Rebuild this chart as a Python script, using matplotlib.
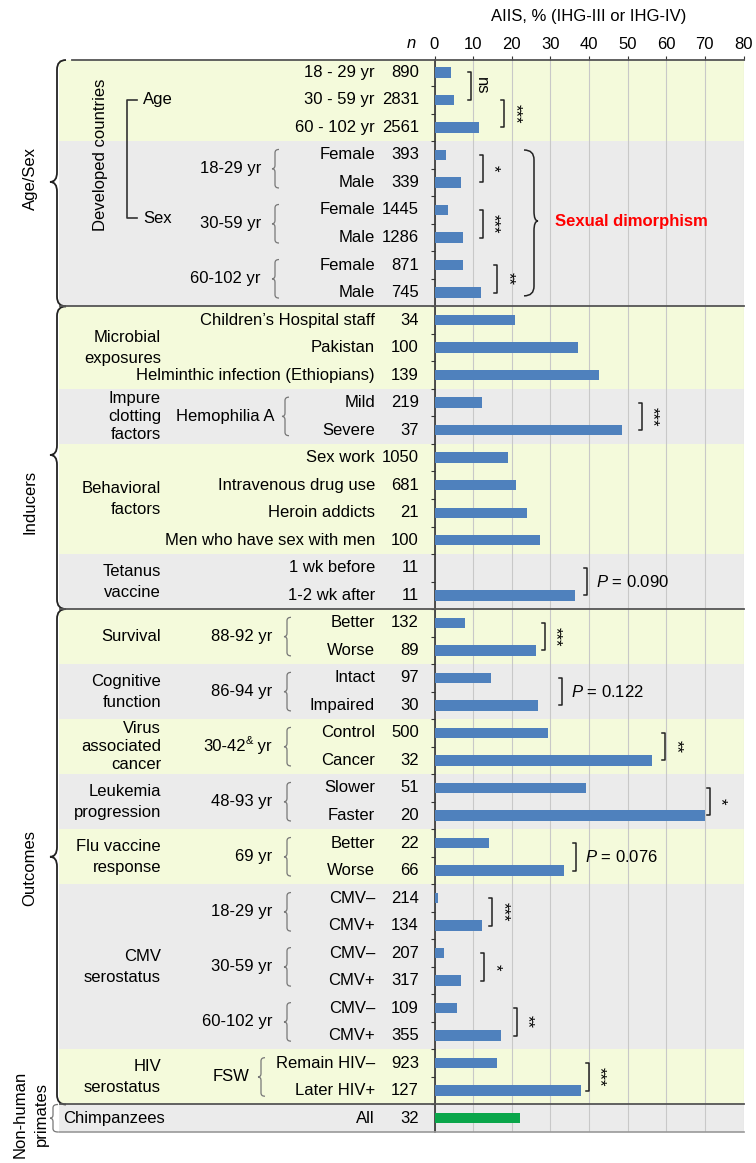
import numpy as np
import matplotlib
matplotlib.use("Agg")
import matplotlib.pyplot as plt
from matplotlib.path import Path
from matplotlib.patches import PathPatch, Rectangle

FONT = "Liberation Sans"
plt.rcParams["font.family"] = [FONT, "DejaVu Sans"]
plt.rcParams["font.size"] = 12
plt.rcParams["mathtext.fontset"] = "custom"
plt.rcParams["mathtext.rm"] = FONT
plt.rcParams["mathtext.it"] = FONT + ":italic"

# ---- Data (one entry per row, top to bottom)
row_labels = [
    "18 - 29 yr", "30 - 59 yr", "60 - 102 yr",
    "Female", "Male", "Female", "Male", "Female", "Male",
    "Children\u2019s Hospital staff", "Pakistan", "Helminthic infection (Ethiopians)",
    "Mild", "Severe",
    "Sex work", "Intravenous drug use", "Heroin addicts", "Men who have sex with men",
    "1 wk before", "1-2 wk after",
    "Better", "Worse", "Intact", "Impaired", "Control", "Cancer",
    "Slower", "Faster", "Better", "Worse",
    "CMV\u2013", "CMV+", "CMV\u2013", "CMV+", "CMV\u2013", "CMV+",
    "Remain HIV\u2013", "Later HIV+", "All",
]
n_values = [890, 2831, 2561, 393, 339, 1445, 1286, 871, 745,
            34, 100, 139, 219, 37, 1050, 681, 21, 100, 11, 11,
            132, 89, 97, 30, 500, 32, 51, 20, 22, 66,
            214, 134, 207, 317, 109, 355, 923, 127, 32]
aiis_pct = [4.4, 5.1, 11.5, 2.9, 6.9, 3.4, 7.25, 7.25, 12.0,
            20.75, 37.25, 42.5, 12.25, 48.6, 19.1, 21.1, 24.0, 27.25, 0.0, 36.5,
            7.9, 26.25, 14.6, 26.9, 29.4, 56.4, 39.25, 70.1, 14.0, 33.6,
            1.0, 12.25, 2.5, 6.9, 5.75, 17.1, 16.1, 37.9, 22.25]
species = ["human"] * 38 + ["chimp"]

# background bands: (first row, last row, shade)
bands = [(0, 2, "y"), (3, 8, "g"), (9, 11, "y"), (12, 13, "g"), (14, 17, "y"),
         (18, 19, "g"), (20, 21, "y"), (22, 23, "g"), (24, 25, "y"), (26, 27, "g"),
         (28, 29, "y"), (30, 35, "g"), (36, 37, "y"), (38, 38, "g")]

group_labels = ["Microbial\nexposures", "Impure\nclotting\nfactors", "Behavioral\nfactors",
                "Tetanus\nvaccine", "Survival", "Cognitive\nfunction",
                "Virus\nassociated\ncancer", "Leukemia\nprogression", "Flu vaccine\nresponse",
                "CMV\nserostatus", "HIV\nserostatus"]
group_rows = [(9, 11), (12, 13), (14, 17), (18, 19), (20, 21), (22, 23),
              (24, 25), (26, 27), (28, 29), (30, 35), (36, 37)]

# "^&" marks a superscript ampersand
sub_labels = ["18-29 yr", "30-59 yr", "60-102 yr", "Hemophilia A",
              "88-92 yr", "86-94 yr", "30-42^& yr", "48-93 yr", "69 yr",
              "18-29 yr", "30-59 yr", "60-102 yr", "FSW"]
sub_rows = [(3, 4), (5, 6), (7, 8), (12, 13), (20, 21), (22, 23), (24, 25),
            (26, 27), (28, 29), (30, 31), (32, 33), (34, 35), (36, 37)]
sub_kind = ["sex", "sex", "sex", "hemo", "std", "std", "std", "std", "std",
            "std", "std", "std", "fsw"]

sig_rows = [(0, 1), (1, 2), (3, 4), (5, 6), (7, 8), (12, 13), (18, 19), (20, 21),
            (22, 23), (24, 25), (26, 27), (28, 29), (30, 31), (32, 33), (34, 35), (36, 37)]
sig_labels = ["ns", "***", "*", "***", "**", "***", "P = 0.090", "***",
              "P = 0.122", "**", "*", "P = 0.076", "***", "*", "**", "***"]

section_labels = ["Age/Sex", "Inducers", "Outcomes"]
section_rows = [(-0.45, 8.5), (8.5, 19.5), (19.5, 37.5)]

xticks = [0, 10, 20, 30, 40, 50, 60, 70, 80]

# ---- Layout (pixels of the 756 x 1163 figure)
W, H = 756, 1163
AX_L, AX_R, AX_T, AX_B = 434.5, 743.5, 60, 1132
PXU = (AX_R - AX_L) / 80.0
SUB_X = {"sex": (261, 275), "hemo": (274, 285), "std": (272, 287), "fsw": (249, 261)}
SIG_X = [9.4, 18.1, 12.5, 12.5, 16.25, 53.75, 39.4, 28.5, 33.1, 59.75, 71.25,
         36.6, 15.0, 12.9, 21.25, 40.0]
SECTION_TEXT_Y = [3.84, 15.6, 28.9]
SECTION_POINT_Y = [3.98, 13.9, 28.5]

BLUE = "#4F81BD"
GREEN = "#0AA64A"
YELLOW = "#F4FADB"
GREY = "#EBEBEB"
DARK = "#333333"


def fx(px):
    return (px - AX_L) / (AX_R - AX_L)


def brace(ax, trans, x, y0, y1, ym, w, d, r, **kw):
    X, XW, XD = fx(x), fx(x + w), fx(x - d)
    verts = [(XW, y0), (X, y0), (X, y0 + r), (X, ym - r), (X, ym), (XD, ym),
             (X, ym), (X, ym + r), (X, y1 - r), (X, y1), (XW, y1)]
    codes = [Path.MOVETO, Path.CURVE3, Path.CURVE3, Path.LINETO, Path.CURVE3,
             Path.CURVE3, Path.CURVE3, Path.CURVE3, Path.LINETO, Path.CURVE3, Path.CURVE3]
    ax.add_patch(PathPatch(Path(verts, codes), transform=trans, fill=False,
                           clip_on=False, **kw))


fig = plt.figure(figsize=(W / 100, H / 100), dpi=100)
ax = fig.add_axes([AX_L / W, 1 - AX_B / H, (AX_R - AX_L) / W, (AX_B - AX_T) / H])
ax.patch.set_visible(False)
trans = ax.get_yaxis_transform()
renderer = fig.canvas.get_renderer()

rows = np.arange(len(aiis_pct))
ax.set_ylim(38.5, -0.45)
ax.set_xlim(0, 80)

# background bands
for a, b, shade in bands:
    top = max(a - 0.5, -0.45)
    ax.add_patch(Rectangle((fx(59), top), 1 - fx(59), b + 0.5 - top, transform=trans,
                           color=YELLOW if shade == "y" else GREY, lw=0,
                           zorder=0.1, clip_on=False))

# bars
colors = [BLUE if s == "human" else GREEN for s in species]
ax.barh(rows, aiis_pct, height=0.38, color=colors, zorder=3)

# axes styling
ax.xaxis.tick_top()
ax.set_xticks(xticks)
ax.tick_params(axis="x", length=3, pad=3, color=DARK, labelsize=12)
ax.set_yticks(np.arange(0.5, 38, 1))
ax.set_yticklabels([])
ax.tick_params(axis="y", length=3, color=DARK)
ax.set_axisbelow(True)
ax.grid(axis="x", color="#C8C8C8", lw=0.8)
for s in ["top", "right", "bottom"]:
    ax.spines[s].set_visible(False)
ax.spines["left"].set_color(DARK)
ax.spines["left"].set_linewidth(1.2)

fig.text(0.5 * (AX_L + AX_R) / W, 1 - 17 / H, "AIIS, % (IHG-III or IHG-IV)",
         ha="center", va="center", fontsize=12)
ax.text(fx(416), 1 + 17 / (AX_B - AX_T), "n", transform=ax.transAxes,
        ha="right", va="center", fontstyle="italic")

# separator lines
ax.plot([fx(72), 1], [-0.45, -0.45], transform=trans, color="#555555", lw=1.3, clip_on=False, zorder=4)
for yy in [8.5, 19.5, 37.5]:
    ax.plot([fx(60), 1], [yy, yy], transform=trans, color="#555555", lw=1.3, clip_on=False, zorder=4)
ax.plot([fx(59), 1], [38.5, 38.5], transform=trans, color="#999999", lw=1.2, clip_on=False, zorder=4)

# row labels and n
for i, (lab, n) in enumerate(zip(row_labels, n_values)):
    ax.text(fx(375), i, lab, transform=trans, ha="right", va="center", clip_on=False)
    ax.text(fx(419), i, str(n), transform=trans, ha="right", va="center", clip_on=False)

# group labels
for lab, (a, b) in zip(group_labels, group_rows):
    nlines = lab.count("\n") + 1
    ax.text(fx(161), (a + b) / 2, lab, transform=trans, ha="right", va="center",
            linespacing=1.25 if nlines > 2 else 1.5, clip_on=False)
ax.text(fx(63), 38, "Chimpanzees", transform=trans, ha="left", va="center", clip_on=False)

# subgroup labels with small braces
for lab, (a, b), kind in zip(sub_labels, sub_rows, sub_kind):
    tx, bx = SUB_X[kind]
    ym = (a + b) / 2
    if "^" in lab:
        # pieces laid out right to left: "30-42", superscript "&", " yr"
        head, rest = lab.split("^")
        sup, tail = rest[0], rest[1:]
        t = ax.text(fx(tx), ym, tail, transform=trans, ha="right", va="center", clip_on=False)
        x_px = t.get_window_extent(renderer).x0
        t = ax.text(fx(x_px), ym - 0.22, sup, transform=trans, ha="right", va="center",
                    fontsize=8, clip_on=False)
        x_px = t.get_window_extent(renderer).x0
        ax.text(fx(x_px), ym, head, transform=trans, ha="right", va="center", clip_on=False)
    else:
        ax.text(fx(tx), ym, lab, transform=trans, ha="right", va="center", clip_on=False)
    brace(ax, trans, bx, a - 0.2, b + 0.2, ym, 4, 3, 0.12, color="#777777", lw=0.9)

# Developed countries tree
ax.text(fx(100), 3.0, "Developed countries", transform=trans, rotation=90,
        ha="center", va="center", clip_on=False)
ax.plot([fx(137), fx(127), fx(127), fx(137)], [1.0, 1.0, 5.3, 5.3], transform=trans,
        color=DARK, lw=1.2, clip_on=False)
ax.text(fx(143), 1.0, "Age", transform=trans, ha="left", va="center", clip_on=False)
ax.text(fx(143), 5.3, "Sex", transform=trans, ha="left", va="center", clip_on=False)

# section braces and labels
for lab, (y0, y1), ty, py in zip(section_labels, section_rows, SECTION_TEXT_Y, SECTION_POINT_Y):
    brace(ax, trans, 57, y0, y1, py, 9, 7, 0.35, color="#222222", lw=1.3)
    ax.text(fx(30), ty, lab, transform=trans, rotation=90, ha="center", va="center", clip_on=False)
brace(ax, trans, 53, 37.5, 38.5, 38.0, 5, 3, 0.12, color="#777777", lw=0.9)
ax.text(fx(31), 37.85, "Non-human\nprimates", transform=trans, rotation=90,
        ha="center", va="center", linespacing=1.5, clip_on=False)

# significance brackets
stub = 3 / PXU
for (a, b), lab, v in zip(sig_rows, sig_labels, SIG_X):
    ax.plot([v - stub, v, v, v - stub], [a, a, b, b], color="#222222", lw=1.1,
            clip_on=False, zorder=4)
    mid = (a + b) / 2
    if lab.startswith("P"):
        ax.text(v + 9 / PXU, mid, "$P$" + lab[1:], ha="left", va="center", clip_on=False)
    else:
        ax.text(v + 3 / PXU, mid, lab, rotation=270, ha="left", va="center", clip_on=False)

# sexual dimorphism
brace(ax, trans, 534, 2.82, 8.12, 5.4, -10, -4, 0.35, color="#222222", lw=1.1)
ax.text(31.3, 5.4, "Sexual dimorphism", color="#FF0000", fontweight="bold",
        ha="left", va="center", clip_on=False)

fig.savefig("out.png", dpi=100)
